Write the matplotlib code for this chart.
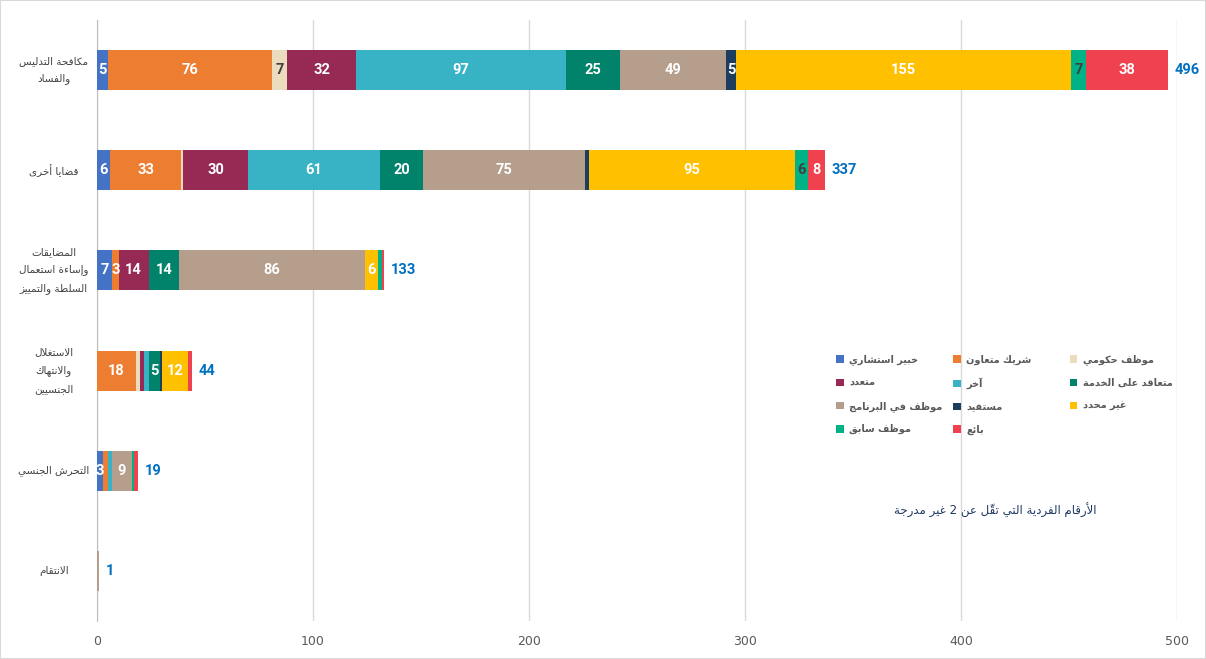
import numpy as np
import matplotlib.pyplot as plt
from matplotlib import font_manager
from matplotlib.patches import Patch, Rectangle
import matplotlib.transforms as mtransforms

# --- small Arabic shaper (matplotlib has no complex text layout) ---
_FORMS = {
    'ء': (0xFE80, 1), 'آ': (0xFE81, 2), 'أ': (0xFE83, 2), 'ؤ': (0xFE85, 2), 'إ': (0xFE87, 2),
    'ئ': (0xFE89, 4), 'ا': (0xFE8D, 2), 'ب': (0xFE8F, 4), 'ة': (0xFE93, 2), 'ت': (0xFE95, 4),
    'ث': (0xFE99, 4), 'ج': (0xFE9D, 4), 'ح': (0xFEA1, 4), 'خ': (0xFEA5, 4), 'د': (0xFEA9, 2),
    'ذ': (0xFEAB, 2), 'ر': (0xFEAD, 2), 'ز': (0xFEAF, 2), 'س': (0xFEB1, 4), 'ش': (0xFEB5, 4),
    'ص': (0xFEB9, 4), 'ض': (0xFEBD, 4), 'ط': (0xFEC1, 4), 'ظ': (0xFEC5, 4), 'ع': (0xFEC9, 4),
    'غ': (0xFECD, 4), 'ف': (0xFED1, 4), 'ق': (0xFED5, 4), 'ك': (0xFED9, 4), 'ل': (0xFEDD, 4),
    'م': (0xFEE1, 4), 'ن': (0xFEE5, 4), 'ه': (0xFEE9, 4), 'و': (0xFEED, 2), 'ى': (0xFEEF, 2),
    'ي': (0xFEF1, 4),
}
_LAM_ALEF = {'آ': 0xFEF5, 'أ': 0xFEF7, 'إ': 0xFEF9, 'ا': 0xFEFB}
_MARKS = set(chr(c) for c in range(0x064B, 0x0653))


def _shape_line(s):
    clusters = []
    for ch in s:
        if ch in _MARKS and clusters:
            clusters[-1][1] += ch
        else:
            clusters.append([ch, ''])
    # lam-alef ligatures
    items = []
    i = 0
    while i < len(clusters):
        b, m = clusters[i]
        if b == 'ل' and i + 1 < len(clusters) and clusters[i + 1][0] in _LAM_ALEF:
            items.append([(_LAM_ALEF[clusters[i + 1][0]], 2), m + clusters[i + 1][1]])
            i += 2
            continue
        items.append([_FORMS.get(b, b), m])
        i += 1
    out = []
    for k, (f, m) in enumerate(items):
        if isinstance(f, str):
            out.append(f + m)
            continue
        base, n = f
        prev = items[k - 1][0] if k > 0 else None
        nxt = items[k + 1][0] if k + 1 < len(items) else None
        jp = prev is not None and not isinstance(prev, str) and prev[1] == 4 and n >= 2
        jn = n == 4 and nxt is not None and not isinstance(nxt, str) and nxt[1] >= 2
        if jp and jn:
            g = base + 3
        elif jp:
            g = base + 1
        elif jn:
            g = base + 2
        else:
            g = base
        out.append(chr(g) + m)
    return ''.join(reversed(out))


def ar(s):
    return '\n'.join(_shape_line(line) for line in s.split('\n'))


# --- data ---
categories = ['مكافحة التدليس\nوالفساد', 'قضايا أخرى', 'المضايقات\nوإساءة استعمال\nالسلطة والتمييز',
              'الاستغلال\nوالانتهاك\nالجنسيين', 'التحرش الجنسي', 'الانتقام']

series_names = ['خبير استشاري', 'شريك متعاون', 'موظف حكومي', 'متعدد', 'آخر', 'متعاقد على الخدمة',
                'موظف في البرنامج', 'مستفيد', 'غير محدد', 'موظف سابق', 'بائع']

consultant = [5, 6, 7, 0, 3, 0]
partner = [76, 33, 3, 18, 2, 0]
government = [7, 1, 0, 2, 0, 0]
multiple = [32, 30, 14, 2, 0, 0]
other = [97, 61, 0, 2, 2, 0]
contractor = [25, 20, 14, 5, 0, 0]
programme_staff = [49, 75, 86, 0, 9, 1]
beneficiary = [5, 2, 0, 1, 0, 0]
unspecified = [155, 95, 6, 12, 0, 0]
former_staff = [7, 6, 2, 0, 1, 0]
vendor = [38, 8, 1, 2, 2, 0]

series = [consultant, partner, government, multiple, other, contractor,
          programme_staff, beneficiary, unspecified, former_staff, vendor]

colors = ['#4472C4', '#ED7D31', '#EADCBC', '#962A55', '#38B2C5', '#00836A',
          '#B59E8B', '#1D3D5E', '#FFC000', '#00B386', '#F0414E']
label_colors = ['white', 'white', '#404040', 'white', 'white', 'white',
                'white', 'white', 'white', '#404040', 'white']

note = 'الأرقام الفردية التي تقلّ عن 2 غير مدرجة'

names = {f.name for f in font_manager.fontManager.ttflist}
num_font = 'DejaVu Sans'
for cand in ['Liberation Sans Narrow', 'DejaVu Sans Condensed', 'Roboto']:
    if cand in names:
        num_font = cand
        break

# --- plot ---
fig = plt.figure(figsize=(12.06, 6.59), dpi=100)
ax = fig.add_axes([0.0804, 0.0577, 0.8955, 0.912])

y = np.arange(len(categories))
left = np.zeros(len(categories))
for vals, col, lc in zip(series, colors, label_colors):
    vals = np.array(vals, dtype=float)
    ax.barh(y, vals, left=left, height=0.4, color=col, zorder=3)
    for yi, v, l in zip(y, vals, left):
        if v >= 3:
            ax.text(l + v / 2, yi, f'{int(v)}', ha='center', va='center', color=lc,
                    fontsize=10.5, fontweight='bold', family=num_font, zorder=4)
    left += vals

for yi, tot in zip(y, left):
    ax.text(tot + 3, yi, f'{int(tot)}', ha='left', va='center', color='#0070C0',
            fontsize=10.5, fontweight='bold', family=num_font, clip_on=False)

ax.set_xlim(0, 500)
ax.set_ylim(5.5, -0.5)
ax.set_xticks(np.arange(0, 501, 100))
ax.tick_params(axis='x', length=0, labelsize=9, labelcolor='#595959', pad=10)
ax.set_yticks([])
ax.grid(axis='x', color='#D9D9D9', linewidth=1, zorder=0)
for s in ['top', 'right', 'bottom']:
    ax.spines[s].set_visible(False)
ax.spines['left'].set_color('#BFBFBF')

trans = mtransforms.blended_transform_factory(ax.transAxes, ax.transData)
for yi, cat in zip(y, categories):
    ax.text(-0.04, yi, ar(cat), transform=trans, ha='center', va='center',
            multialignment='center', fontsize=7.5, color='#404040',
            family='DejaVu Sans', linespacing=1.95)

# legend, one column at a time so the columns sit where the original has them
legend_cols = [[0, 3, 6, 9], [1, 4, 7, 10], [2, 5, 8]]
col_x = [0.693, 0.790, 0.887]
for idx, xpos in zip(legend_cols, col_x):
    handles = [Patch(facecolor=colors[i], label=ar(series_names[i])) for i in idx]
    fig.legend(handles=handles, ncol=1, loc='upper left', bbox_to_anchor=(xpos, 0.462),
               frameon=False, handlelength=0.8, handleheight=0.8,
               handletextpad=0.6, labelspacing=1.3, borderpad=0, borderaxespad=0,
               labelcolor='#595959', prop={'family': 'DejaVu Sans', 'weight': 'bold', 'size': 7})

fig.text(0.825, 0.225, ar(note), ha='center', va='center', fontsize=8.5,
         color='#1F3864', family='DejaVu Sans')

fig.patches.append(Rectangle((0, 0), 1, 1, transform=fig.transFigure, fill=False,
                             edgecolor='#D9D9D9', linewidth=1.5))

fig.savefig('out.png', dpi=100)
